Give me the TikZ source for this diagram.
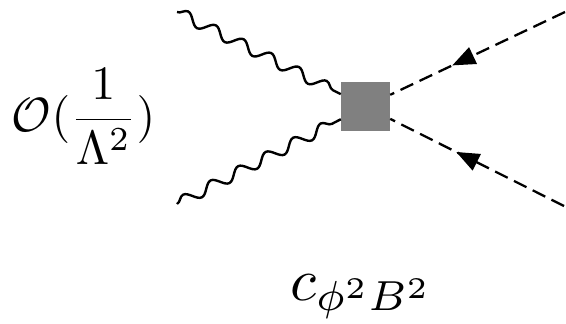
\documentclass[tikz,border=0pt]{standalone}
\usetikzlibrary{decorations.pathmorphing,decorations.markings,arrows.meta}
\definecolor{vgray}{RGB}{128,128,128}
\tikzset{
  photon/.style={line width=2.4pt,decorate,decoration={snake,amplitude=5.5pt,segment length=31pt}},
  scalar/.style={line width=2.3pt,dash pattern=on 14pt off 7pt,
    postaction={decorate},
    decoration={markings,mark=at position #1 with {\arrow{Triangle[length=23pt,width=18pt]}}}},
  vertexbox/.style={rectangle,fill=vgray,minimum size=49pt,inner sep=0pt},
  leftlabel/.style={scale=4.8,inner sep=0pt},
  botlabel/.style={scale=6.0,inner sep=0pt}
}
\begin{document}
\begin{tikzpicture}[x=1pt,y=-1pt]
\useasboundingbox (0,0) rectangle (566,324);
\node[vertexbox] (sq) at (365.5,106.5) {};
\coordinate (g1) at (177,12);
\coordinate (g2) at (177,204);
\coordinate (s1) at (565,12);
\coordinate (s2) at (564,206);
\draw[photon] (g1) -- (sq);
\draw[photon] (g2) -- (sq);
\draw[scalar=0.645] (s1) -- (sq);
\draw[scalar=0.62] (s2) -- (sq);
\node[leftlabel,anchor=base west] (op) at (11,131.5) {$\displaystyle\mathcal{O}(\frac{1}{\Lambda^2})$};
\node[botlabel,anchor=base west] (coef) at (289,300) {$c_{\phi^2 B^2}$};
\end{tikzpicture}
\end{document}
